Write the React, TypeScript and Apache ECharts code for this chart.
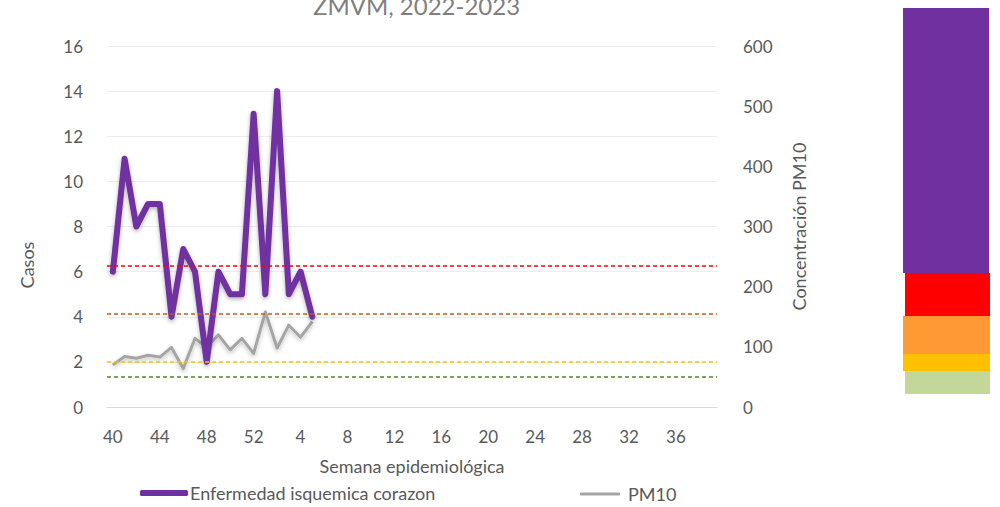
import React, { useEffect, useRef } from "react";
import * as echarts from "echarts";

const weeks: string[] = [
  "40", "41", "42", "43", "44", "45", "46", "47", "48", "49", "50", "51", "52",
  "1", "2", "3", "4", "5", "6", "7", "8", "9", "10", "11", "12", "13", "14", "15",
  "16", "17", "18", "19", "20", "21", "22", "23", "24", "25", "26", "27", "28",
  "29", "30", "31", "32", "33", "34", "35", "36", "37", "38", "39",
];
const caseCounts: number[] = [6, 11, 8, 9, 9, 4, 7, 6, 2, 6, 5, 5, 13, 5, 14, 5, 6, 4];
const pm10Values: number[] = [70, 84, 81, 86, 83, 99, 64, 114, 99, 120, 95, 114, 89, 158, 98, 136, 116, 142];
const thresholdValues: number[] = [50, 75, 155, 235];
const thresholdColors: string[] = ["#548235", "#FFC000", "#C55A11", "#FF0000"];
const seriesNames: string[] = ["Enfermedad isquemica corazon", "PM10"];
const titleText = "ZMVM, 2022-2023";

const FONT = "Lato, 'Noto Sans', sans-serif";
const GREY = "#595959";

export default function App() {
  const ref = useRef<HTMLDivElement>(null);
  useEffect(() => {
    if (!ref.current) return;
    const chart = echarts.init(ref.current, null, { renderer: "svg" });
    const option: any = {
      animation: false,
      backgroundColor: "#ffffff",
      textStyle: { fontFamily: FONT },
      grid: { left: 107, right: 283, top: 46, bottom: 100 },
      legend: [
        {
          data: [{ name: seriesNames[0], icon: "roundRect", itemStyle: { color: "#7030A0" } }],
          left: 140,
          top: 484,
          padding: 0,
          itemWidth: 48,
          itemHeight: 6,
          itemGap: 2,
          textStyle: { fontFamily: FONT, fontSize: 18, color: GREY, padding: [0, 0, 0, -3] },
        },
        {
          data: [{ name: seriesNames[1], icon: "roundRect", itemStyle: { color: "#A5A5A5" } }],
          left: 580,
          top: 485,
          padding: 0,
          itemWidth: 40,
          itemHeight: 3,
          textStyle: { fontFamily: FONT, fontSize: 18, color: GREY, padding: [0, 0, 0, 3] },
        },
      ],
      xAxis: {
        type: "category",
        data: weeks,
        boundaryGap: true,
        axisLine: { lineStyle: { color: "#D9D9D9", width: 1 } },
        axisTick: { show: false },
        axisLabel: { interval: 3, color: GREY, fontSize: 17, fontFamily: FONT, margin: 21 },
        name: "Semana epidemiológica",
        nameLocation: "middle",
        nameGap: 50,
        nameTextStyle: { color: GREY, fontSize: 18, fontFamily: FONT },
      },
      yAxis: [
        {
          type: "value",
          min: 0,
          max: 16,
          interval: 2,
          axisLine: { show: false },
          axisTick: { show: false },
          splitLine: { lineStyle: { color: "#EDEDED", width: 1 } },
          axisLabel: { color: GREY, fontSize: 17, fontFamily: FONT, margin: 24 },
        },
        {
          type: "value",
          min: 0,
          max: 600,
          interval: 100,
          position: "right",
          axisLine: { show: false },
          axisTick: { show: false },
          splitLine: { show: false },
          axisLabel: { color: GREY, fontSize: 17, fontFamily: FONT, margin: 26 },
          name: "Concentración PM10",
          nameLocation: "middle",
          nameGap: 73,
          nameRotate: 90,
          nameTextStyle: { color: GREY, fontSize: 18, fontFamily: FONT },
        },
      ],
      series: [
        {
          name: "thresholds",
          type: "line",
          yAxisIndex: 1,
          data: [],
          silent: true,
          markLine: {
            symbol: "none",
            silent: true,
            label: { show: false },
            data: thresholdValues.map((v, i) => ({
              yAxis: v,
              lineStyle: { color: thresholdColors[i], type: [4, 3], width: 1.5 },
            })),
          },
        },
        {
          name: seriesNames[1],
          type: "line",
          yAxisIndex: 1,
          data: pm10Values,
          showSymbol: false,
          symbol: "none",
          lineStyle: {
            color: "#A5A5A5",
            width: 3,
            join: "round",
            shadowColor: "rgba(0,0,0,0.25)",
            shadowBlur: 4,
            shadowOffsetY: 2,
          },
          itemStyle: { color: "#A5A5A5" },
          z: 3,
        },
        {
          name: seriesNames[0],
          type: "line",
          yAxisIndex: 0,
          data: caseCounts,
          showSymbol: false,
          symbol: "none",
          lineStyle: {
            color: "#7030A0",
            width: 6,
            join: "round",
            cap: "round",
            shadowColor: "rgba(0,0,0,0.3)",
            shadowBlur: 4,
            shadowOffsetY: 2,
          },
          itemStyle: { color: "#7030A0" },
          z: 4,
        },
      ],
      graphic: [
        {
          type: "text",
          left: 313,
          top: -7,
          style: { text: titleText, fontSize: 24, fontFamily: FONT, fill: "#7F7F7F" },
        },
        {
          type: "text",
          x: 27,
          y: 265,
          rotation: Math.PI / 2,
          style: {
            text: "Casos",
            fontSize: 18,
            fontFamily: FONT,
            fill: GREY,
            align: "center",
            verticalAlign: "middle",
          },
        },
        { type: "rect", shape: { x: 903, y: 8, width: 86, height: 265 }, style: { fill: "#7030A0" } },
        { type: "rect", shape: { x: 905, y: 273, width: 85, height: 43 }, style: { fill: "#FF0000" } },
        { type: "rect", shape: { x: 903, y: 316, width: 87, height: 38 }, style: { fill: "#FF9933" } },
        { type: "rect", shape: { x: 903, y: 354, width: 87, height: 17 }, style: { fill: "#FFC000" } },
        { type: "rect", shape: { x: 905, y: 371, width: 85, height: 23 }, style: { fill: "#C4D79B" } },
      ],
    };
    chart.setOption(option);
    return () => chart.dispose();
  }, []);
  return (
    <div
      ref={ref}
      style={{ position: "fixed", left: 0, top: 0, width: 1000, height: 507 }}
    />
  );
}
